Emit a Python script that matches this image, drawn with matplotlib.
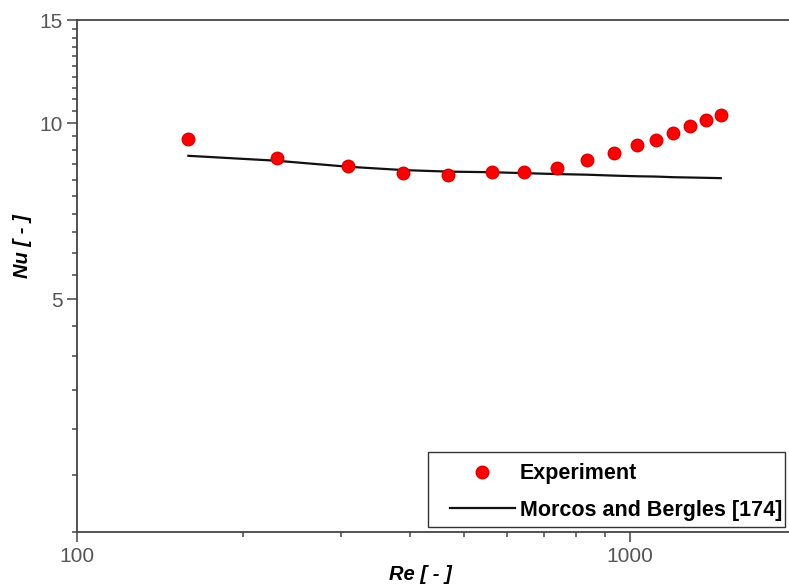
import numpy as np
import matplotlib.pyplot as plt
from matplotlib.patches import Rectangle
from matplotlib.ticker import FixedLocator, NullFormatter, FixedFormatter

# Nu vs Re
re_exp = [159, 230, 309, 389, 469, 562, 644, 739, 837, 937, 1028, 1114, 1198, 1284, 1372, 1459]
nu_exp = [9.39, 8.70, 8.45, 8.23, 8.16, 8.25, 8.24, 8.39, 8.65, 8.90, 9.18, 9.37, 9.62, 9.87, 10.13, 10.34]
nu_morcos = [8.79, 8.62, 8.42, 8.31, 8.26, 8.24, 8.21, 8.18, 8.16, 8.13, 8.11, 8.10, 8.08, 8.07, 8.06, 8.05]

x_major = [100, 1000]
y_major = [5, 10, 15]
y_minor = np.arange(2.0, 15.0, 0.5)

plt.rcParams['font.family'] = ['Liberation Sans', 'DejaVu Sans']

fig = plt.figure(figsize=(7.89, 5.87), dpi=100)
ax = fig.add_axes([77/789, 55/587, 719.5/789, 512/587])

ax.plot(re_exp, nu_exp, 'o', color='#ff0000', mec='#dd0000', ms=9, label='Experiment', zorder=3)
ax.plot(re_exp, nu_morcos, '-', color='#111111', lw=1.6, label='Morcos and Bergles [174]', zorder=2)

ax.set_xscale('log')
ax.set_yscale('log')
ax.set_xlim(100, 2000)
ax.set_ylim(2, 15)

ax.yaxis.set_major_locator(FixedLocator(y_major))
ax.yaxis.set_major_formatter(FixedFormatter([str(v) for v in y_major]))
ax.yaxis.set_minor_locator(FixedLocator([v for v in y_minor if v not in y_major]))
ax.yaxis.set_minor_formatter(NullFormatter())
ax.xaxis.set_major_locator(FixedLocator(x_major))
ax.xaxis.set_major_formatter(FixedFormatter([str(v) for v in x_major]))
ax.xaxis.set_minor_formatter(NullFormatter())

for s in ax.spines.values():
    s.set_color('#444444')
    s.set_linewidth(1.3)
ax.tick_params(which='major', length=7, width=1.1, color='#444444', labelsize=15, labelcolor='#555555')
ax.tick_params(which='minor', length=3.5, width=1.1, color='#444444')

ax.set_xlabel('Re [ - ]', fontsize=14.5, fontweight='bold', fontstyle='italic')
ax.set_ylabel('Nu [ - ]', fontsize=14.5, fontweight='bold', fontstyle='italic')
ax.xaxis.set_label_coords(0.478, -0.064)
ax.yaxis.set_label_coords(-0.063, 0.559)

# legend box drawn separately (origin-style: wide left margin, tight right)
ax.add_patch(Rectangle((0.4878, 0.0098), 0.4962, 0.1465, transform=ax.transAxes,
                       facecolor='white', edgecolor='#333333', lw=1.0, zorder=4))
leg = ax.legend(loc='lower left', bbox_to_anchor=(0.5184, 0.022),
                prop={'weight': 'bold', 'size': 15.5}, frameon=False,
                handlelength=3.0, handletextpad=0.25, labelspacing=0.72, borderpad=0,
                borderaxespad=0)
leg.set_zorder(5)

fig.savefig('out.png', dpi=100)
